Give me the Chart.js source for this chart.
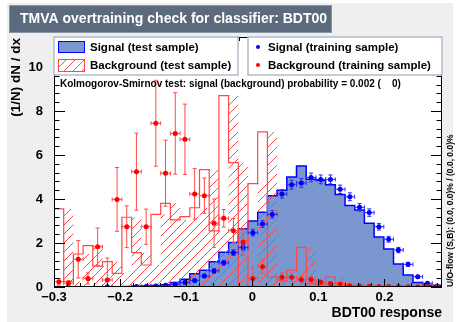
<!DOCTYPE html>
<html>
<head>
<meta charset="utf-8">
<script src="https://cdn.jsdelivr.net/npm/chart.js@4.4.0/dist/chart.umd.min.js"></script>
<style>
  html, body { margin: 0; padding: 0; background: #fff; }
  #wrap { width: 460px; height: 322px; position: relative; }
</style>
</head>
<body>
<div id="wrap"><canvas id="c" width="460" height="322"></canvas></div>
<script>
// ---- data ----
const nBins = 40;
const xMin = -0.3, xMax = 0.287;
const yMax = 11.36;

const xTickValues = [-0.3, -0.2, -0.1, 0, 0.1, 0.2];
const xTickLabels = ['\u22120.3', '\u22120.2', '\u22120.1', '0', '0.1', '0.2'];
const yTickValues = [0, 2, 4, 6, 8, 10];

// Signal (test sample) histogram
const signalTest = [0, 0, 0, 0, 0, 0, 0, 0, 0.02, 0.03,
  0.05, 0.07, 0.1, 0.2, 0.35, 0.6, 0.76, 1.15, 1.58, 2.02,
  2.65, 3.0, 3.4, 4.15, 4.4, 5.0, 5.5, 4.9, 4.85, 4.65,
  4.2, 3.7, 3.5, 2.9, 2.27, 1.73, 1.04, 0.55, 0.2, 0.08];

// Background (test sample) histogram
const backgroundTest = [0.1, 3.55, 0.25, 1.5, 1.88, 0.95, 1.15, 0.62, 3.17, 1.56,
  1.0, 3.3, 3.8, 3.05, 3.2, 3.6, 5.33, 2.55, 8.7, 5.65,
  0, 4.7, 7.05, 0.45, 0.3, 0.77, 1.8, 0.15, 0.1, 0.45,
  0.2, 0.05, 0.03, 0.02, 0.02, 0.01, 0.01, 0, 0, 0];

// Signal (training sample) points and errors
const signalTrain = [null, null, null, null, null, 0.01, null, null, 0.02, 0.02,
  0.05, 0.08, 0.12, 0.2, 0.3, 0.5, 0.73, 1.1, 1.56, 1.79,
  2.47, 2.86, 3.3, 4.23, 4.65, 4.73, 4.98, 4.89, 4.89, 4.44,
  4.1, 3.62, 3.38, 2.74, 2.17, 1.68, 1.03, 0.47, 0.17, 0.05];
const signalTrainErr = [0, 0, 0, 0, 0, 0.02, 0, 0, 0.02, 0.02,
  0.03, 0.04, 0.05, 0.06, 0.07, 0.08, 0.1, 0.11, 0.13, 0.14,
  0.15, 0.16, 0.17, 0.19, 0.2, 0.2, 0.2, 0.2, 0.2, 0.19,
  0.18, 0.17, 0.17, 0.15, 0.13, 0.12, 0.09, 0.06, 0.04, 0.02];

// Background (training sample) points and errors
const backgroundTrain = [0.24, 0.17, 1.26, 0.39, 1.83, 0.32, 3.98, 2.74, 5.24, 2.74,
  7.44, 5.17, 6.98, 6.71, 4.23, 4.15, 2.9, 3.12, 2.56, 2.04,
  0.39, 0.92, null, 0.44, 0.44, 0.33, 0.34, 0.22, 0.16, 0.12,
  0.06, 0.04, 0.03, 0.02, 0.02, 0.02, 0.01, 0.01, 0.02, 0.02];
const backgroundTrainErr = [0.15, 0.12, 0.85, 0.25, 0.85, 1.0, 1.45, 0.95, 1.75, 0.8,
  1.95, 1.5, 1.85, 1.6, 1.15, 0.8, 1.1, 0.4, 0.55, 0.6,
  0.5, 0.3, 0, 0.2, 0.2, 0.15, 0.15, 0.1, 0.08, 0.06,
  0.04, 0.03, 0.02, 0.02, 0.02, 0.02, 0.01, 0.01, 0.02, 0.02];

const titleText = 'TMVA overtraining check for classifier: BDT00';
const legendLabels = ['Signal (test sample)', 'Background (test sample)',
  'Signal (training sample)', 'Background (training sample)'];
const ksText = 'Kolmogorov-Smirnov test: signal (background) probability = 0.002 (    0)';
const flowText = 'U/O-flow (S,B): (0.0, 0.0)% / (0.0, 0.0)%';

// ---- helpers ----
const binW = (xMax - xMin) / nBins;
const edges = Array.from({length: nBins + 1}, (_, i) => xMin + i * binW);
const centres = edges.slice(0, nBins).map(e => e + binW / 2);

function histPoints(vals) {
  const pts = [{x: edges[0], y: 0}];
  vals.forEach((v, i) => pts.push({x: edges[i], y: v}));
  pts.push({x: edges[nBins], y: vals[nBins - 1]});
  pts.push({x: edges[nBins], y: 0});
  return pts;
}
function pointData(vals) {
  return centres.map((c, i) => ({x: c, y: vals[i]}));
}

const FONT = "'Liberation Sans', Arial, Helvetica, sans-serif";
const SIG_FILL = '#7b97d0';
const SIG_LINE = '#0000ff';
const BKG_LINE = '#ff4848';
const HATCH = '#ff4848';

// diagonal "/" hatch lines inside the current clip
function hatchLines(ctx, x0, y0, x1, y1) {
  const h = y1 - y0;
  ctx.strokeStyle = HATCH;
  ctx.lineWidth = 1;
  ctx.beginPath();
  for (let k = x0 - h; k < x1 + 9; k += 9) {
    ctx.moveTo(k, y1);
    ctx.lineTo(k + h, y0);
  }
  ctx.stroke();
}

// ---- plugin: background, frame, ticks, hatch, error bars, annotations ----
const rootStyle = {
  id: 'rootStyle',
  beforeDraw(chart) {
    const {ctx, chartArea: a} = chart;
    ctx.save();
    ctx.fillStyle = '#ffffff';
    ctx.fillRect(0, 0, chart.width, chart.height);
    ctx.fillStyle = '#efefef';
    ctx.fillRect(7, 3, 446, 319);
    ctx.fillStyle = '#ffffff';
    ctx.fillRect(a.left, a.top, a.right - a.left, a.bottom - a.top);
    ctx.restore();
  },
  beforeDatasetDraw(chart, args) {
    const ds = chart.data.datasets[args.index];
    if (!ds.errY) return;
    const {ctx, chartArea: a} = chart;
    const xs = chart.scales.x, ys = chart.scales.y;
    ctx.save();
    ctx.beginPath();
    ctx.rect(a.left, a.top, a.right - a.left, a.bottom - a.top);
    ctx.clip();
    ctx.strokeStyle = ds.errColor;
    ctx.lineWidth = 1;
    ds.data.forEach((p, i) => {
      if (p.y == null) return;
      const px = xs.getPixelForValue(p.x);
      const py = ys.getPixelForValue(p.y);
      const x0 = xs.getPixelForValue(edges[i]);
      const x1 = xs.getPixelForValue(edges[i + 1]);
      const yHi = ys.getPixelForValue(p.y + ds.errY[i]);
      const yLo = ys.getPixelForValue(Math.max(0, p.y - ds.errY[i]));
      ctx.beginPath();
      ctx.moveTo(x0, py); ctx.lineTo(x1, py);
      ctx.moveTo(px, yHi); ctx.lineTo(px, yLo);
      ctx.moveTo(px - 2, yHi); ctx.lineTo(px + 2, yHi);
      ctx.moveTo(px - 2, yLo); ctx.lineTo(px + 2, yLo);
      ctx.moveTo(x0, py - 2); ctx.lineTo(x0, py + 2);
      ctx.moveTo(x1, py - 2); ctx.lineTo(x1, py + 2);
      ctx.stroke();
    });
    ctx.restore();
  },
  afterDatasetDraw(chart, args) {
    const ds = chart.data.datasets[args.index];
    if (!ds.hatchVals) return;
    const {ctx, chartArea: a} = chart;
    const xs = chart.scales.x, ys = chart.scales.y;
    const vals = ds.hatchVals;
    ctx.save();
    ctx.beginPath();
    ctx.rect(a.left, a.top, a.right - a.left, a.bottom - a.top);
    ctx.clip();
    ctx.beginPath();
    ctx.moveTo(xs.getPixelForValue(edges[0]), ys.getPixelForValue(0));
    vals.forEach((v, i) => {
      ctx.lineTo(xs.getPixelForValue(edges[i]), ys.getPixelForValue(v));
      ctx.lineTo(xs.getPixelForValue(edges[i + 1]), ys.getPixelForValue(v));
    });
    ctx.lineTo(xs.getPixelForValue(edges[nBins]), ys.getPixelForValue(0));
    ctx.closePath();
    ctx.clip();
    hatchLines(ctx, a.left, a.top, a.right, a.bottom);
    ctx.restore();
  },
  afterDatasetsDraw(chart) {
    const {ctx, chartArea: a} = chart;
    const xs = chart.scales.x, ys = chart.scales.y;
    ctx.save();
    ctx.strokeStyle = '#000';
    ctx.lineWidth = 1;
    ctx.strokeRect(a.left + 0.5, a.top + 0.5, a.right - a.left - 1, a.bottom - a.top - 1);
    ctx.beginPath();
    // x ticks, bottom and top
    for (let v = -0.3; v <= xMax + 1e-9; v += 0.02) {
      const major = Math.abs(v * 10 - Math.round(v * 10)) < 1e-6;
      const len = major ? 8 : 4;
      const px = Math.round(xs.getPixelForValue(v)) + 0.5;
      if (px < a.left || px > a.right) continue;
      ctx.moveTo(px, a.bottom); ctx.lineTo(px, a.bottom - len);
      ctx.moveTo(px, a.top); ctx.lineTo(px, a.top + len);
    }
    // y ticks, left and right
    for (let v = 0; v <= yMax + 1e-9; v += 0.4) {
      const major = Math.abs(v / 2 - Math.round(v / 2)) < 1e-6;
      const len = major ? 11 : 5.5;
      const py = Math.round(ys.getPixelForValue(v)) + 0.5;
      ctx.moveTo(a.left, py); ctx.lineTo(a.left + len, py);
      ctx.moveTo(a.right, py); ctx.lineTo(a.right - len, py);
    }
    ctx.stroke();
    ctx.restore();
  },
  afterDraw(chart) {
    const {ctx, chartArea: a} = chart;
    ctx.save();
    // title box
    ctx.fillStyle = '#5b6a7c';
    ctx.fillRect(9, 5, 323, 28);
    ctx.strokeStyle = '#8a96a4';
    ctx.strokeRect(9.5, 5.5, 322, 27);
    ctx.fillStyle = '#ffffff';
    ctx.font = 'bold 14px ' + FONT;
    ctx.textBaseline = 'middle';
    ctx.fillText(titleText, 20, 19.5);

    // legend boxes
    ctx.fillStyle = '#ffffff';
    ctx.strokeStyle = '#b4bccb';
    ctx.lineWidth = 1.5;
    ctx.fillRect(a.left, a.top, 184, 38);
    ctx.strokeRect(a.left, a.top, 184, 38);
    ctx.fillRect(248, a.top, a.right - 248, 38);
    ctx.strokeRect(248, a.top, a.right - 248, 38);

    // legend markers
    ctx.lineWidth = 1;
    ctx.fillStyle = SIG_FILL;
    ctx.fillRect(58, 41, 27, 12);
    ctx.strokeStyle = SIG_LINE;
    ctx.strokeRect(58.5, 41.5, 26, 11);
    ctx.save();
    ctx.beginPath();
    ctx.rect(58, 59, 27, 13);
    ctx.clip();
    hatchLines(ctx, 58, 59, 85, 72);
    ctx.restore();
    ctx.strokeStyle = BKG_LINE;
    ctx.strokeRect(58.5, 59.5, 26, 12);
    ctx.fillStyle = SIG_LINE;
    ctx.beginPath(); ctx.arc(258, 47, 2, 0, Math.PI * 2); ctx.fill();
    ctx.fillStyle = '#ff0000';
    ctx.beginPath(); ctx.arc(258, 65, 2, 0, Math.PI * 2); ctx.fill();

    ctx.fillStyle = '#000';
    ctx.font = 'bold 11.5px ' + FONT;
    ctx.fillText(legendLabels[0], 90, 47.5);
    ctx.fillText(legendLabels[1], 90, 65.5);
    ctx.fillText(legendLabels[2], 268, 47.5);
    ctx.fillText(legendLabels[3], 268, 65.5);

    // KS test line
    ctx.font = 'bold 10px ' + FONT;
    ctx.fillText(ksText, 60, 84);

    // y-axis title
    ctx.font = 'bold 13.5px ' + FONT;
    ctx.save();
    ctx.translate(16, 38);
    ctx.rotate(-Math.PI / 2);
    ctx.textAlign = 'right';
    ctx.fillText('(1/N) dN / dx', 0, 0);
    ctx.restore();

    // under/overflow note on the right
    ctx.font = 'bold 8.5px ' + FONT;
    ctx.translate(451, a.bottom);
    ctx.rotate(-Math.PI / 2);
    ctx.textAlign = 'left';
    ctx.fillText(flowText, 0, 0);
    ctx.restore();
  }
};

new Chart(document.getElementById('c'), {
  type: 'line',
  data: {
    datasets: [
      {
        label: legendLabels[3],
        type: 'scatter',
        data: pointData(backgroundTrain),
        errY: backgroundTrainErr,
        errColor: '#ff4a4a',
        pointRadius: 2.5,
        pointBackgroundColor: '#ff0000',
        pointBorderWidth: 0,
        showLine: false,
        order: 1
      },
      {
        label: legendLabels[2],
        type: 'scatter',
        data: pointData(signalTrain),
        errY: signalTrainErr,
        errColor: '#2a2aff',
        pointRadius: 2.5,
        pointBackgroundColor: '#0000ff',
        pointBorderWidth: 0,
        showLine: false,
        order: 2
      },
      {
        label: legendLabels[1],
        data: histPoints(backgroundTest),
        hatchVals: backgroundTest,
        stepped: 'after',
        borderColor: BKG_LINE,
        borderWidth: 1.2,
        backgroundColor: 'rgba(0,0,0,0)',
        fill: false,
        pointRadius: 0,
        order: 3
      },
      {
        label: legendLabels[0],
        data: histPoints(signalTest),
        stepped: 'after',
        borderColor: SIG_LINE,
        borderWidth: 1.5,
        backgroundColor: SIG_FILL,
        fill: 'origin',
        pointRadius: 0,
        order: 4
      }
    ]
  },
  options: {
    responsive: false,
    animation: false,
    devicePixelRatio: 1,
    layout: { padding: { left: 0, right: 18, top: 37, bottom: 0 } },
    plugins: {
      legend: { display: false },
      tooltip: { enabled: false }
    },
    scales: {
      x: {
        type: 'linear',
        min: xMin,
        max: xMax,
        afterFit: s => { s.height = 35; },
        afterBuildTicks: s => { s.ticks = xTickValues.map(v => ({value: v})); },
        ticks: {
          autoSkip: false,
          maxRotation: 0,
          padding: 3,
          color: '#000',
          font: { family: FONT, size: 13, weight: 'bold' },
          callback: (v) => xTickLabels[xTickValues.findIndex(t => Math.abs(t - v) < 1e-9)]
        },
        grid: { display: false, drawTicks: false },
        border: { display: false },
        title: {
          display: true,
          text: 'BDT00 response',
          align: 'end',
          color: '#000',
          padding: { top: 0, bottom: 0 },
          font: { family: FONT, size: 14, weight: 'bold' }
        }
      },
      y: {
        type: 'linear',
        min: 0,
        max: yMax,
        afterFit: s => { s.width = 54; },
        afterBuildTicks: s => { s.ticks = yTickValues.map(v => ({value: v})); },
        ticks: {
          padding: 11,
          color: '#000',
          font: { family: FONT, size: 13, weight: 'bold' }
        },
        grid: { display: false, drawTicks: false },
        border: { display: false }
      }
    }
  },
  plugins: [rootStyle]
});
</script>
</body>
</html>
